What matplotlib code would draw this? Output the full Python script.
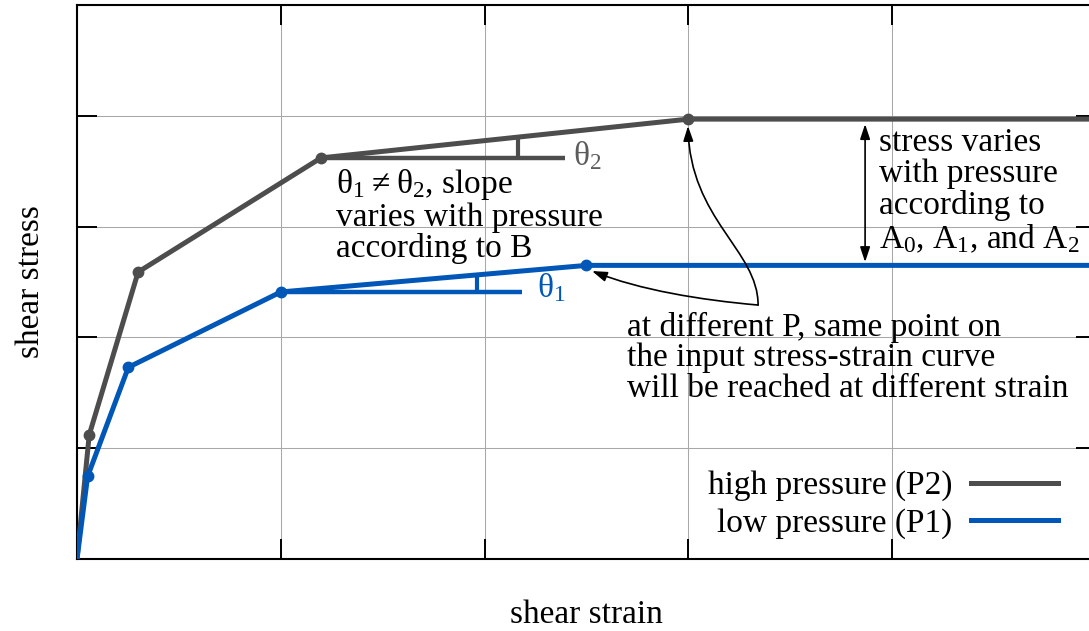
import matplotlib
matplotlib.use('Agg')
import numpy as np
import matplotlib.pyplot as plt
from matplotlib.path import Path
from matplotlib.patches import FancyArrowPatch
from matplotlib.lines import Line2D

# ---------------- data ----------------
series_labels = ["high pressure (P2)", "low pressure (P1)"]
high_strain = [0.0, 0.06, 0.30, 1.197, 3.0, 5.0]
high_stress = [0.0, 1.12, 2.59, 3.62, 3.97, 3.97]
low_strain = [0.0, 0.052, 0.252, 1.0, 2.5, 5.0]
low_stress = [0.0, 0.745, 1.73, 2.41, 2.65, 2.65]
x_ticks = [0, 1, 2, 3, 4, 5]
y_ticks = [0, 1, 2, 3, 4, 5]
x_label = "shear strain"
y_label = "shear stress"

slope_text = (r"$\mathregular{θ_1 \neq θ_2}$, slope" + "\n"
              "varies with pressure\naccording to B")
stress_text = ("stress varies\nwith pressure\naccording to\n"
               r"$\mathregular{A_0}$, $\mathregular{A_1}$, and $\mathregular{A_2}$")
strain_text = ("at different P, same point on\nthe input stress-strain curve\n"
               "will be reached at different strain")

# annotation geometry (data units)
theta2_end, theta2_tick = 2.395, 2.164
theta1_end, theta1_tick = 2.184, 1.963
gray_arrow_path = [(3.342, 2.292), (3.342, 2.789), (3.008, 3.060), (2.998, 3.908)]
blue_arrow_path = [(3.342, 2.292), (3.057, 2.338), (2.762, 2.428), (2.527, 2.599)]
dbl_arrow_x = 3.867

GRAY = '#4d4d4d'
BLUE = '#0057b7'

plt.rcParams['font.family'] = ['Liberation Serif', 'DejaVu Serif']
plt.rcParams['font.size'] = 24

fig = plt.figure(figsize=(10.89, 6.31), dpi=100)
ax = fig.add_axes([77/1089, (631-559)/631, (1096-77)/1089, (559-5)/631])
ax.set_xlim(0, 5)
ax.set_ylim(0, 5)
ax.set_xticks(x_ticks)
ax.set_yticks(y_ticks)
ax.tick_params(direction='in', length=14.4, width=1.4, top=True, right=True,
               labelbottom=False, labelleft=False)
ax.grid(True, color='#a8a8a8', lw=0.75)
ax.set_axisbelow(True)
for s in ax.spines.values():
    s.set_linewidth(1.5)

ax.plot(high_strain, high_stress, color=GRAY, lw=3.6, marker='o', ms=7.5,
        markevery=[1, 2, 3, 4], solid_capstyle='butt', zorder=3)
ax.plot(low_strain, low_stress, color=BLUE, lw=3.6, marker='o', ms=7.5,
        markevery=[1, 2, 3, 4], solid_capstyle='butt', zorder=3)

# slope reference lines
ax.plot([high_strain[3], theta2_end], [high_stress[3]]*2, color=GRAY, lw=3.2,
        solid_capstyle='butt', zorder=3)
ax.plot([theta2_tick]*2, [high_stress[3], np.interp(theta2_tick, high_strain, high_stress)],
        color=GRAY, lw=3.0, solid_capstyle='butt', zorder=3)
ax.plot([low_strain[3], theta1_end], [low_stress[3]]*2, color=BLUE, lw=3.2,
        solid_capstyle='butt', zorder=3)
ax.plot([theta1_tick]*2, [low_stress[3], np.interp(theta1_tick, low_strain, low_stress)],
        color=BLUE, lw=3.0, solid_capstyle='butt', zorder=3)

ax.text(2.434, 3.556, r"$\mathregular{θ_2}$", color='#5c5c5c', va='baseline', ha='left')
ax.text(2.257, 2.367, r"$\mathregular{θ_1}$", color=BLUE, va='baseline', ha='left')

# multi-line texts: y is the baseline of the last line
ax.text(1.271, 2.728, slope_text, va='baseline', ha='left', linespacing=1.0)
ax.text(3.935, 2.804, stress_text, va='baseline', ha='left', linespacing=1.05)
ax.text(2.699, 1.465, strain_text, va='baseline', ha='left', linespacing=1.0)

# arrows
codes = [Path.MOVETO, Path.CURVE4, Path.CURVE4, Path.CURVE4]
for verts in (gray_arrow_path, blue_arrow_path):
    p = FancyArrowPatch(path=Path(verts, codes),
                        arrowstyle='-|>,head_length=0.45,head_width=0.15',
                        mutation_scale=20, lw=1.2, color='k', transform=ax.transData,
                        zorder=4)
    ax.add_patch(p)

ax.annotate('', xy=(dbl_arrow_x, high_stress[-1] - 0.045),
            xytext=(dbl_arrow_x, low_stress[-1] + 0.03),
            arrowprops=dict(arrowstyle='<|-|>,head_length=0.45,head_width=0.15',
                            mutation_scale=20, lw=1.2, color='k',
                            shrinkA=0, shrinkB=0))

handles = [Line2D([], [], color=GRAY, lw=3.6), Line2D([], [], color=BLUE, lw=3.6)]
ax.legend(handles, series_labels, loc='lower right',
          bbox_to_anchor=(1058/1089, 0.146), bbox_transform=fig.transFigure,
          markerfirst=False, frameon=False, fontsize=24, handlelength=2.6,
          handletextpad=0.57, labelspacing=0.2, borderpad=0, borderaxespad=0)

ax.set_xlabel(x_label, fontsize=24, labelpad=29)
ax.set_ylabel(y_label, fontsize=24, labelpad=22)

fig.savefig('out.png', dpi=100)
